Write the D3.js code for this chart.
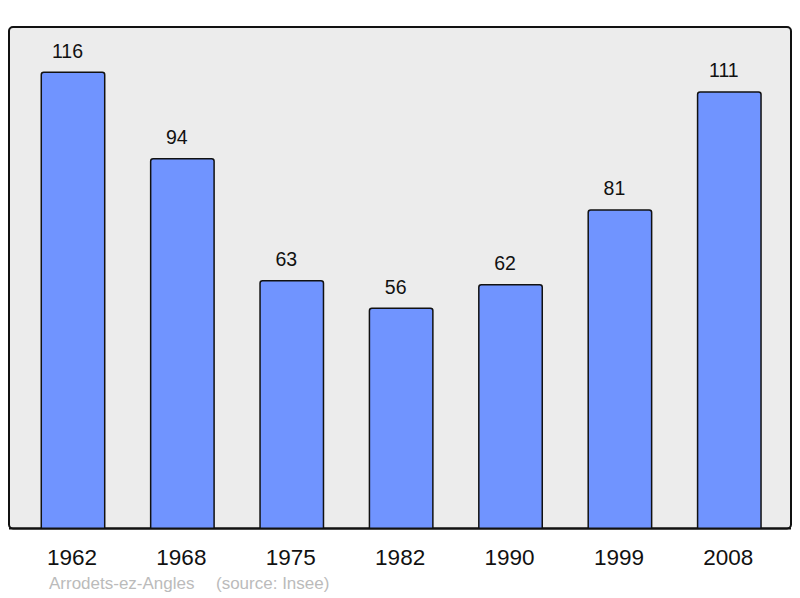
<!DOCTYPE html>
<html lang="fr">
<head>
<meta charset="UTF-8">
<title>Arrodets-ez-Angles</title>
<script src="https://cdnjs.cloudflare.com/ajax/libs/d3/7.8.5/d3.min.js"></script>
<style>
  body { margin: 0; background: #fff; }
  svg { display: block; font-family: "Liberation Sans", Arial, sans-serif; }
</style>
</head>
<body>
<svg id="chart" width="800" height="598"></svg>
<script>
// population by census year
var years = ["1962", "1968", "1975", "1982", "1990", "1999", "2008"];
var population = [116, 94, 63, 56, 62, 81, 111];
var commune = "Arrodets-ez-Angles";
var source = "(source: Insee)";

var svg = d3.select("#chart");

var frame = { left: 9, top: 27, right: 791, bottom: 528.5 };

// background frame
svg.append("rect")
    .attr("x", frame.left)
    .attr("y", frame.top)
    .attr("width", frame.right - frame.left)
    .attr("height", frame.bottom - frame.top)
    .attr("rx", 4)
    .style("fill", "#ececec")
    .style("stroke", "#111")
    .style("stroke-width", 2);

var x = d3.scaleBand()
    .domain(years)
    .range([18.3, 784])
    .paddingInner(0.42)
    .paddingOuter(0.21);

var y = d3.scaleLinear()
    .domain([0, 116])
    .range([frame.bottom, 72.3]);

var data = years.map((yr, i) => ({ year: yr, value: population[i] }));

// bars with slightly rounded tops, bottoms hidden under the frame line
svg.selectAll("path.bar")
    .data(data)
    .enter()
    .append("path")
    .attr("class", "bar")
    .attr("d", d => {
        var x0 = x(d.year), x1 = x0 + x.bandwidth();
        var y0 = y(d.value), yb = y(0), r = 2.5;
        return "M" + x0 + "," + yb +
               "L" + x0 + "," + (y0 + r) +
               "Q" + x0 + "," + y0 + " " + (x0 + r) + "," + y0 +
               "L" + (x1 - r) + "," + y0 +
               "Q" + x1 + "," + y0 + " " + x1 + "," + (y0 + r) +
               "L" + x1 + "," + yb;
    })
    .style("fill", "#7094ff")
    .style("stroke", "#111")
    .style("stroke-width", 1.5);

// redraw bottom line of frame over the bars
svg.append("line")
    .attr("x1", frame.left)
    .attr("x2", frame.right)
    .attr("y1", frame.bottom)
    .attr("y2", frame.bottom)
    .style("stroke", "#111")
    .style("stroke-width", 2);

// value labels (sit a little left of the bar centre, as in the original)
svg.selectAll("text.value")
    .data(data)
    .enter()
    .append("text")
    .attr("class", "value")
    .attr("x", d => x(d.year) + x.bandwidth() / 2 - 5.5)
    .attr("y", d => y(d.value) - 14.5)
    .attr("text-anchor", "middle")
    .style("font-size", "19.5px")
    .style("fill", "#111")
    .text(d => d.value);

// year labels
svg.selectAll("text.year")
    .data(data)
    .enter()
    .append("text")
    .attr("class", "year")
    .attr("x", d => x(d.year) + x.bandwidth() / 2 - 1)
    .attr("y", 565)
    .attr("text-anchor", "middle")
    .style("font-size", "22.5px")
    .style("fill", "#111")
    .text(d => d.year);

// footer
svg.append("text")
    .attr("x", 49)
    .attr("y", 589)
    .style("font-size", "17px")
    .style("fill", "#bbbbbb")
    .text(commune);

svg.append("text")
    .attr("x", 216)
    .attr("y", 589)
    .style("font-size", "17px")
    .style("fill", "#bbbbbb")
    .text(source);
</script>
</body>
</html>
